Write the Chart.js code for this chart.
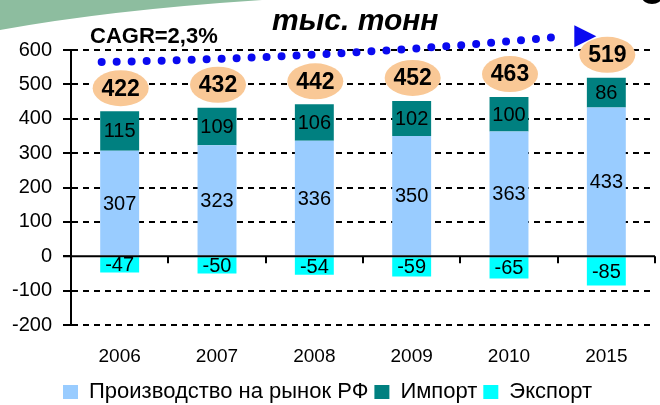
<!DOCTYPE html>
<html>
<head>
<meta charset="utf-8">
<script src="https://cdn.jsdelivr.net/npm/chart.js@4"></script>
<style>
  html, body { margin: 0; padding: 0; background: #fff; }
  #wrap { width: 660px; height: 405px; }
</style>
</head>
<body>
<div id="wrap"><canvas id="chart" width="660" height="405"></canvas></div>
<script>
const years = ["2006", "2007", "2008", "2009", "2010", "2015"];
const production = [307, 323, 336, 350, 363, 433];
const imports = [115, 109, 106, 102, 100, 86];
const exports = [-47, -50, -54, -59, -65, -85];
const totals = [422, 432, 442, 452, 463, 519];
const seriesNames = ["Производство на рынок РФ", "Импорт", "Экспорт"];
const yMin = -200;
const yMax = 600;
const yStep = 100;

const FONT = "'Liberation Sans', Arial, sans-serif";

// background swoosh, zero line, labels, bubbles and the CAGR arrow
const decor = {
  id: "decor",
  beforeDraw(chart) {
    const { ctx } = chart;
    ctx.save();
    ctx.fillStyle = "#fff";
    ctx.fillRect(0, 0, chart.width, chart.height);
    ctx.beginPath();
    ctx.moveTo(0, 0);
    ctx.lineTo(262, 0);
    ctx.quadraticCurveTo(110, 10, 0, 30);
    ctx.closePath();
    ctx.fillStyle = "#8dbd9f";
    ctx.fill();
    ctx.beginPath();
    ctx.ellipse(652, -3, 10, 7, 0, 0, Math.PI * 2);
    ctx.fillStyle = "#000";
    ctx.fill();
    ctx.restore();
  },
  afterDatasetsDraw(chart) {
    const { ctx, chartArea } = chart;
    const x = chart.scales.x;
    const y = chart.scales.y;
    const y0 = y.getPixelForValue(0);
    ctx.save();

    // zero line with category ticks
    ctx.strokeStyle = "#000";
    ctx.lineWidth = 2;
    ctx.beginPath();
    ctx.moveTo(chartArea.left - 8, y0);
    ctx.lineTo(chartArea.right, y0);
    for (let i = 0; i <= years.length; i++) {
      const px = Math.round(x.getPixelForValue(i - 0.5));
      ctx.moveTo(px, y0);
      ctx.lineTo(px, y0 + 7);
    }
    ctx.stroke();

    // values inside segments
    ctx.fillStyle = "#000";
    ctx.font = "20px " + FONT;
    ctx.textAlign = "center";
    ctx.textBaseline = "middle";
    chart.data.datasets.forEach((ds, di) => {
      chart.getDatasetMeta(di).data.forEach((bar, i) => {
        const mid = (bar.y + bar.base) / 2;
        ctx.fillText(String(ds.data[i]), bar.x, mid + 1);
      });
    });

    // totals in peach bubbles
    const topMeta = chart.getDatasetMeta(1);
    ctx.font = "bold 23px " + FONT;
    topMeta.data.forEach((bar, i) => {
      const cy = bar.y - 23;
      ctx.beginPath();
      ctx.ellipse(bar.x + 1, cy, 28, 18, 0, 0, Math.PI * 2);
      ctx.fillStyle = "#f9c896";
      ctx.fill();
      ctx.fillStyle = "#000";
      ctx.fillText(String(totals[i]), bar.x + 1, cy + 1);
    });

    // dotted growth arrow
    const sx = x.getPixelForValue(0) - 18;
    const sy = y.getPixelForValue(565);
    const ex = x.getPixelForValue(5) - 41;
    const ey = y.getPixelForValue(640);
    ctx.strokeStyle = "#0a0af0";
    ctx.lineWidth = 8;
    ctx.lineCap = "round";
    ctx.setLineDash([0, 15]);
    ctx.beginPath();
    ctx.moveTo(sx, sy);
    ctx.quadraticCurveTo((sx + ex) / 2, sy - 4, ex, ey);
    ctx.stroke();
    ctx.setLineDash([]);
    const tipX = x.getPixelForValue(5) - 10;
    ctx.beginPath();
    ctx.moveTo(tipX - 22, ey - 11);
    ctx.lineTo(tipX, ey);
    ctx.lineTo(tipX - 22, ey + 11);
    ctx.closePath();
    ctx.fillStyle = "#0a0af0";
    ctx.fill();

    // captions
    ctx.fillStyle = "#000";
    ctx.textAlign = "left";
    ctx.font = "bold 22px " + FONT;
    ctx.fillText("CAGR=2,3%", 90, 37);
    ctx.font = "italic bold 30px " + FONT;
    ctx.fillText("тыс. тонн", 272, 22);
    ctx.restore();
  }
};

new Chart(document.getElementById("chart"), {
  type: "bar",
  data: {
    labels: years,
    datasets: [
      { label: seriesNames[0], data: production, backgroundColor: "#99ccff" },
      { label: seriesNames[1], data: imports, backgroundColor: "#008080" },
      { label: seriesNames[2], data: exports, backgroundColor: "#00ffff" }
    ]
  },
  options: {
    responsive: false,
    animation: false,
    devicePixelRatio: 1,
    barPercentage: 0.4,
    categoryPercentage: 1,
    layout: { padding: { top: 50, right: 5, left: 0, bottom: 0 } },
    scales: {
      x: {
        stacked: true,
        afterFit: (s) => { s.height = 50; },
        grid: { display: false },
        border: { display: false },
        ticks: { color: "#000", font: { family: FONT, size: 19 }, padding: 12 }
      },
      y: {
        stacked: true,
        min: yMin,
        max: yMax,
        afterFit: (s) => { s.width = 71; },
        ticks: { stepSize: yStep, color: "#000", font: { family: FONT, size: 20 }, padding: 11 },
        grid: {
          color: (c) => (c.tick && c.tick.value === 0 ? "rgba(0,0,0,0)" : "#000"),
          tickColor: "#000",
          lineWidth: 2,
          tickLength: 8,
          tickBorderDash: []
        },
        border: { display: true, color: "#000", width: 2, dash: [6, 5] }
      }
    },
    plugins: {
      legend: {
        position: "bottom",
        maxHeight: 30,
        labels: {
          color: "#000",
          boxWidth: 15,
          boxHeight: 14,
          padding: 6,
          font: { family: FONT, size: 22 }
        }
      },
      tooltip: { enabled: false }
    }
  },
  plugins: [decor]
});
</script>
</body>
</html>
